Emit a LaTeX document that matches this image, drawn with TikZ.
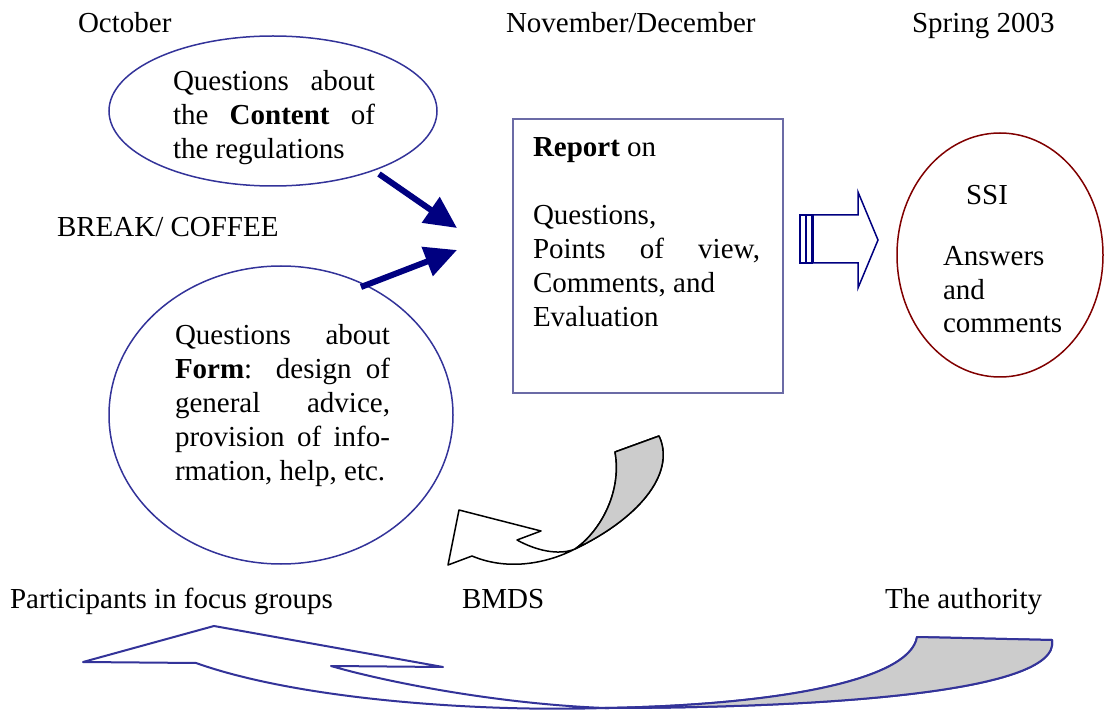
\documentclass[tikz,border=0pt]{standalone}
\usepackage{fontspec}
\setmainfont{Liberation Serif}
\usetikzlibrary{shapes.geometric,arrows.meta}
\definecolor{navy}{HTML}{000080}
\definecolor{ebl}{HTML}{333399}
\definecolor{rbl}{HTML}{6B6BA6}
\definecolor{dred}{HTML}{800000}
\definecolor{lgray}{HTML}{CCCCCC}
\newcommand{\jline}[2]{\makebox[#1][s]{#2}}
\tikzset{
  every node/.style={inner sep=0pt, outer sep=0pt},
  txt/.style={anchor=base west, font=\fontsize{29}{33.7}\selectfont},
  bubble/.style={ellipse, draw=ebl, line width=1.5pt},
  thickarrow/.style={draw=navy, line width=6pt, -{Triangle[length=32pt,width=30pt]}},
  blockarrow/.style={draw=navy, line width=1.5pt, fill=white},
  curlarrow/.style={draw=black, line width=1.5pt, line join=round},
  bigarrow/.style={draw=ebl, line width=2pt, line join=round}
}
\begin{document}
\begin{tikzpicture}[x=1pt,y=-1pt]
\useasboundingbox (0,0) rectangle (1104,711);

% headings
\node[txt] (oct) at (78,33) {October};
\node[txt] (nov) at (506,33) {November/December};
\node[txt] (spr) at (912,33) {Spring 2003};
\node[txt] (brk) at (57,237) {BREAK/ COFFEE};
\node[txt] (part) at (10,608) {Participants in focus groups};
\node[txt] (bmds) at (462,608) {BMDS};
\node[txt] (auth) at (885,608) {The authority};

% ellipse 1
\node[bubble, minimum width=328pt, minimum height=150pt] (e1) at (273,111) {};
\node[txt] (e1t) at (173,91) {\parbox[t]{202pt}{\fontsize{29}{33.7}\selectfont
  \jline{202pt}{Questions about}\\
  \jline{202pt}{the \textbf{Content} of}\\
  the regulations}};

% ellipse 2
\node[bubble, minimum width=344pt, minimum height=298pt] (e2) at (281,415) {};
\node[txt] (e2t) at (175,345) {\parbox[t]{215pt}{\fontsize{29}{34}\selectfont
  \jline{215pt}{Questions about}\\
  \jline{215pt}{\textbf{Form}: design of}\\
  \jline{215pt}{general advice,}\\
  \jline{215pt}{provision of info-}\\
  rmation, help, etc.}};

% report box
\node[draw=rbl, line width=1.5pt, minimum width=270pt, minimum height=274pt] (rep) at (648,256) {};
\node[txt] (rept) at (533,157) {\parbox[t]{227pt}{\fontsize{29}{34}\selectfont
  \textbf{Report} on\\[34pt]
  Questions,\\
  \jline{227pt}{Points of view,}\\
  Comments, and\\
  Evaluation}};

% SSI ellipse
\node[ellipse, draw=dred, line width=1.5pt, minimum width=206pt, minimum height=244pt] (e3) at (1000,255) {};
\node[txt] (ssi) at (966,205) {SSI};
\node[txt] (e3t) at (943,266) {\parbox[t]{150pt}{\fontsize{29}{33.5}\selectfont
  Answers\\ and\\ comments}};

% thick arrows
\coordinate (a1s) at (379,174);
\coordinate (a1e) at (457,228);
\coordinate (a2s) at (361,287);
\coordinate (a2e) at (457,250);
\draw[thickarrow] (a1s) -- (a1e);
\draw[thickarrow] (a2s) -- (a2e);

% striped block arrow
\draw[blockarrow] (813,215) -- (858,215) -- (858,192) -- (878,240) -- (858,288) -- (858,263) -- (813,263) -- cycle;
\draw[blockarrow] (800,215) rectangle (805.5,263);
\draw[blockarrow] (806.5,215) rectangle (812,263);

% curled arrow (middle)
\coordinate (cx) at (575,549);
\path[curlarrow, fill=white] (517,540) -- (541,531) -- (459,510) -- (448,565) -- (472,556)
  .. controls (510,572) and (550,562) .. (cx)
  .. controls (645,515) and (675,470) .. (659,436)
  -- (615,452)
  .. controls (622,490) and (602,530) .. (cx)
  .. controls (558,556) and (535,550) .. (517,540) -- cycle;
\path[curlarrow, fill=lgray] (cx) .. controls (645,515) and (675,470) .. (659,436)
  -- (615,452) .. controls (622,490) and (602,530) .. (cx) -- cycle;

% big bottom arrow
\coordinate (bx) at (605,708);
\path[bigarrow, fill=white] (331,666) -- (443,667) -- (214,626) -- (83,662) -- (196,663)
  .. controls (300,700) and (480,712) .. (bx)
  .. controls (800,708) and (1062,695) .. (1052,640)
  -- (917,637)
  .. controls (910,680) and (780,705) .. (bx)
  .. controls (500,704) and (390,683) .. (331,666) -- cycle;
\path[bigarrow, fill=lgray] (bx) .. controls (800,708) and (1062,695) .. (1052,640)
  -- (917,637) .. controls (910,680) and (780,705) .. (bx) -- cycle;
\end{tikzpicture}
\end{document}
